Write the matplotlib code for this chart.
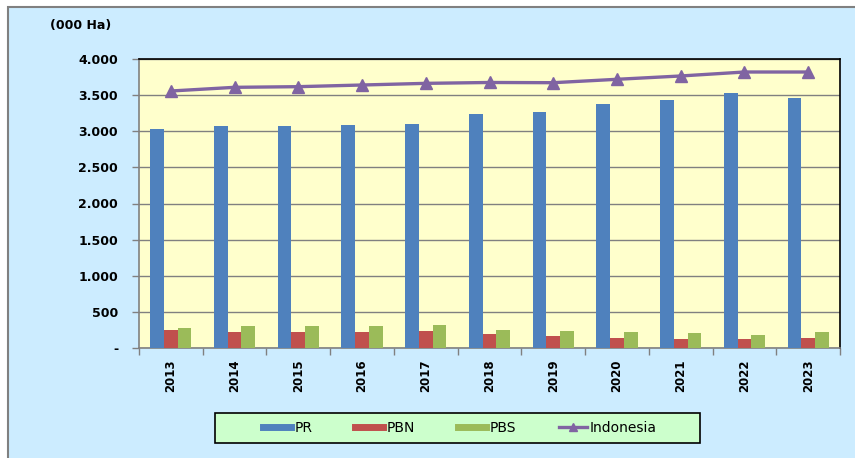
import matplotlib.pyplot as plt
import numpy as np
from matplotlib.patches import Rectangle
from matplotlib.lines import Line2D

years = ['2013', '2014', '2015', '2016', '2017', '2018', '2019', '2020', '2021', '2022', '2023']
pr = [3031, 3072, 3072, 3093, 3107, 3238, 3273, 3372, 3432, 3525, 3464]
pbn = [245, 217, 217, 217, 231, 190, 166, 134, 120, 120, 134]
pbs = [277, 310, 310, 310, 318, 245, 231, 217, 208, 176, 217]
indonesia = [3557, 3608, 3617, 3640, 3663, 3675, 3672, 3719, 3765, 3820, 3820]

y_ticks = [0, 500, 1000, 1500, 2000, 2500, 3000, 3500, 4000]
y_labels = ['-', '500', '1.000', '1.500', '2.000', '2.500', '3.000', '3.500', '4.000']

c_pr = '#4F81BD'
c_pbn = '#C0504D'
c_pbs = '#9BBB59'
c_ind = '#8064A2'

fig = plt.figure(figsize=(8.55, 4.58), dpi=100)
fig.patch.set_facecolor('white')

# light blue chart background with grey border on left/top
bg = Rectangle((8 / 855, -0.01), 1.0, (458 - 7) / 458 + 0.01, transform=fig.transFigure,
               facecolor='#CCECFF', edgecolor='#808080', linewidth=1.5, zorder=-2)
fig.patches.append(bg)

# legend box
lbox = Rectangle((215 / 855, (458 - 443) / 458), 485 / 855, 30 / 458, transform=fig.transFigure,
                 facecolor='#CCFFCC', edgecolor='black', linewidth=1.2, zorder=-1)
fig.patches.append(lbox)

ax = fig.add_axes([139 / 855, (458 - 348) / 458, (840 - 139) / 855, 289 / 458])
ax.set_zorder(2)
ax.set_facecolor('#FFFFCC')

x = np.arange(len(years))
w = 0.215
ax.bar(x - w, pr, w, color=c_pr, zorder=3)
ax.bar(x, pbn, w, color=c_pbn, zorder=3)
ax.bar(x + w, pbs, w, color=c_pbs, zorder=3)
ax.plot(x, indonesia, color=c_ind, linewidth=2.4, marker='^', markersize=9, zorder=4)

ax.set_xlim(-0.5, len(years) - 0.5)
ax.set_ylim(0, 4000)
ax.set_yticks(y_ticks)
ax.set_yticklabels(y_labels, fontsize=9, fontweight='bold')
ax.yaxis.grid(True, color='#808080', linewidth=1.0, zorder=1)
ax.set_axisbelow(True)

ax.set_xticks(np.arange(-0.5, len(years), 1.0))
ax.set_xticklabels([])
ax.set_xticks(x, minor=True)
ax.set_xticklabels(years, minor=True, rotation=90, fontsize=8.5, fontweight='bold')
ax.tick_params(axis='x', which='minor', length=0, pad=8)
ax.tick_params(axis='x', which='major', length=5, color='#808080', width=1)
ax.tick_params(axis='y', length=5, color='#808080', width=1, pad=10)

ax.spines['left'].set_color('#808080')
ax.spines['bottom'].set_color('#808080')
ax.spines['top'].set_color('black')
ax.spines['right'].set_color('black')
for s in ax.spines.values():
    s.set_linewidth(1.2)

fig.text(50 / 855, 1 - 25 / 458, '(000 Ha)', fontsize=9, fontweight='bold', va='center', ha='left')

handles = [
    Line2D([], [], color=c_pr, linewidth=5),
    Line2D([], [], color=c_pbn, linewidth=5),
    Line2D([], [], color=c_pbs, linewidth=5),
    Line2D([], [], color=c_ind, linewidth=2.4, marker='^', markersize=6),
]
leg = fig.legend(handles, ['PR', 'PBN', 'PBS', 'Indonesia'], ncol=4, loc='center',
                 bbox_to_anchor=(460 / 855, (458 - 428) / 458), fontsize=10,
                 frameon=False, handlelength=2.0, handletextpad=0.25, columnspacing=3.1,
                 borderpad=0, borderaxespad=0)

fig.savefig('out.png', dpi=100, facecolor=fig.get_facecolor())
